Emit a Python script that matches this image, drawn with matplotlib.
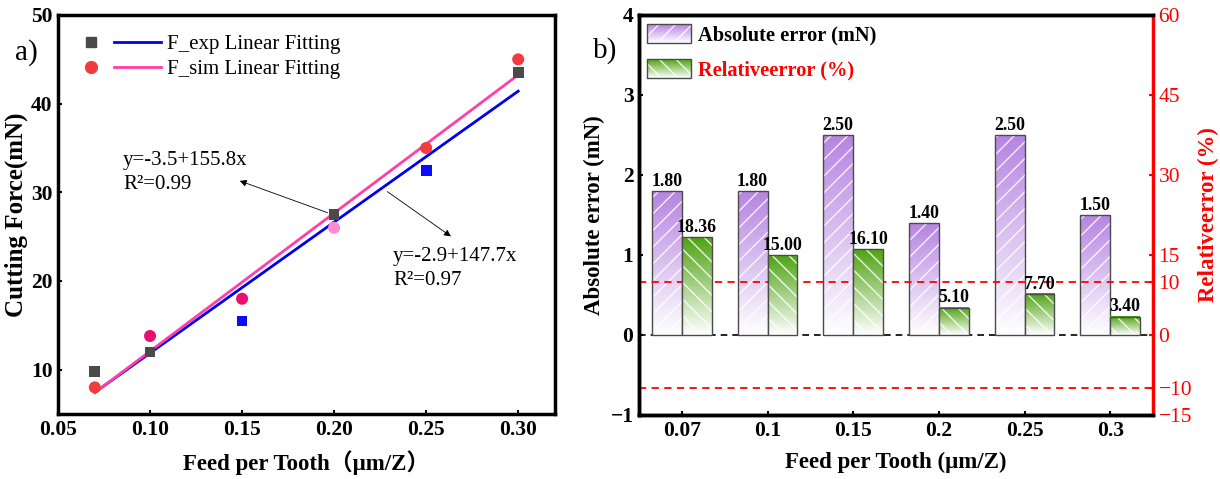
import numpy as np
import matplotlib
matplotlib.use("Agg")
import matplotlib.pyplot as plt
from matplotlib.colors import LinearSegmentedColormap, Normalize
from matplotlib.legend_handler import HandlerBase, HandlerTuple
from matplotlib.image import BboxImage
from matplotlib.transforms import Bbox, TransformedBbox
from matplotlib.patches import Rectangle
from matplotlib.lines import Line2D

SERIF = ["Liberation Serif", "Noto Sans CJK SC", "DejaVu Serif"]
plt.rcParams["font.family"] = SERIF
plt.rcParams["axes.unicode_minus"] = True

# ---- panel a) data ----
feed = [0.07, 0.10, 0.15, 0.20, 0.25, 0.30]
f_exp = [9.8, 12.0, 15.5, 27.5, 32.5, 43.5]
f_sim = [8.0, 13.8, 18.0, 26.0, 35.0, 45.0]
exp_colors = ["#4a4a4a", "#4a4a4a", "#0a0aff", "#4a4a4a", "#0a0aff", "#4a4a4a"]
sim_colors = ["#f03c3c", "#e8106e", "#e8106e", "#ff8ccc", "#f03c3c", "#f03c3c"]
# fitted lines as printed on the chart: y = a + b x
fit_exp = (-2.9, 147.7)
fit_sim = (-3.5, 155.8)

# ---- panel b) data ----
feed_labels = ["0.07", "0.1", "0.15", "0.2", "0.25", "0.3"]
abs_err = [1.80, 1.80, 2.50, 1.40, 2.50, 1.50]
rel_err = [18.36, 15.00, 16.10, 5.10, 7.70, 3.40]

purple = "#b684e2"
green = "#4fa312"
cmap_p = LinearSegmentedColormap.from_list("p", ["#ffffff", purple])
cmap_g = LinearSegmentedColormap.from_list("g", ["#ffffff", green])


class GradientHandler(HandlerBase):
    def __init__(self, cmap, hatch):
        super().__init__()
        self.cmap = cmap
        self.hatch = hatch

    def create_artists(self, legend, orig_handle, xdescent, ydescent,
                       width, height, fontsize, trans):
        bb = TransformedBbox(Bbox.from_bounds(-xdescent, -ydescent, width, height), trans)
        img = BboxImage(bb, cmap=self.cmap, norm=Normalize(0, 1), interpolation="bilinear")
        img.set_data(np.linspace(1, 0, 64).reshape(-1, 1))
        hat = Rectangle((-xdescent, -ydescent), width, height, facecolor="none",
                        edgecolor=(1, 1, 1, 0.85), lw=0, hatch=self.hatch, transform=trans)
        edge = Rectangle((-xdescent, -ydescent), width, height, facecolor="none",
                         edgecolor="#4a4a4a", lw=1.0, transform=trans)
        return [img, hat, edge]


def gradient_bars(ax, xs, heights, width, cmap, hatch):
    grad = np.linspace(0, 1, 128).reshape(-1, 1)
    for x, h in zip(xs, heights):
        ax.imshow(grad, extent=[x - width / 2, x + width / 2, 0, h], cmap=cmap,
                  norm=Normalize(0, 1), aspect="auto", origin="lower",
                  interpolation="bilinear", zorder=2)
    ax.bar(xs, heights, width, facecolor="none", edgecolor=(1, 1, 1, 0.85),
           linewidth=0, hatch=hatch, zorder=3)
    return ax.bar(xs, heights, width, facecolor="none", edgecolor="#4a4a4a",
                  linewidth=1.0, zorder=4)


fig = plt.figure(figsize=(12.2, 4.79), dpi=100)

# ================= panel a =================
ax = fig.add_axes([58 / 1220, 65 / 479, 497 / 1220, 399 / 479])
xl = np.array([feed[0], feed[-1]])
ln_exp, = ax.plot(xl, fit_exp[0] + fit_exp[1] * xl, color="#0000ee", lw=2.0, zorder=2)
ln_sim, = ax.plot(xl, fit_sim[0] + fit_sim[1] * xl, color="#ff3fa8", lw=2.0, zorder=2)
ax.scatter(feed, f_exp, marker="s", s=60, c=exp_colors, zorder=3, linewidths=0)
ax.scatter(feed, f_sim, marker="o", s=75, c=sim_colors, zorder=3, linewidths=0)

ax.set_xlim(0.05, 0.32)
ax.set_ylim(5, 50)
ax.set_xticks([0.05, 0.10, 0.15, 0.20, 0.25, 0.30])
ax.set_xticklabels(["0.05", "0.10", "0.15", "0.20", "0.25", "0.30"])
ax.set_yticks([10, 20, 30, 40, 50])
ax.tick_params(direction="in", length=3, width=1.5, labelsize=15.5, pad=4)
for lab in ax.get_xticklabels() + ax.get_yticklabels():
    lab.set_fontweight("bold")
for sp in ax.spines.values():
    sp.set_linewidth(2.5)
ax.set_xlabel("Feed per Tooth（μm/Z）", fontsize=16.5, fontweight="bold", labelpad=8)
ax.set_ylabel("Cutting Force(mN)", fontsize=18, fontweight="bold", labelpad=2)

m_exp = Line2D([], [], marker="s", ls="none", color="#4a4a4a", markersize=7.5)
m_sim = Line2D([], [], marker="o", ls="none", color="#f03c3c", markersize=8.5)
ax.legend([(m_exp, ln_exp), (m_sim, ln_sim)],
          ["F_exp Linear Fitting", "F_sim Linear Fitting"],
          handler_map={tuple: HandlerTuple(ndivide=None, pad=0.0)},
          loc="upper left", bbox_to_anchor=(0.019, 0.951), frameon=False,
          borderaxespad=0, borderpad=0,
          fontsize=15, handlelength=4.5, handletextpad=0.3, labelspacing=0.25)

ax.annotate("", xy=(0.1473, 31.4), xytext=(0.1978, 27.6),
            arrowprops=dict(arrowstyle="-|>", color="black", lw=0.6, mutation_scale=10))
ax.annotate("", xy=(0.2647, 24.85), xytext=(0.2277, 30.26),
            arrowprops=dict(arrowstyle="-|>", color="black", lw=0.6, mutation_scale=10))
ax.text(0.0853, 32.24, f"y={fit_sim[0]}+{fit_sim[1]}x\nR²=0.99", fontsize=15,
        va="center", linespacing=1.35)
ax.text(0.232, 21.41, f"y={fit_exp[0]}+{fit_exp[1]}x\nR²=0.97", fontsize=15,
        va="center", linespacing=1.35)
fig.text(26 / 1220, 1 - 53 / 479, "a)", fontsize=21, ha="center", va="center")

# ================= panel b =================
bx = fig.add_axes([639 / 1220, 64 / 479, 514 / 1220, 400 / 479])
bx2 = bx.twinx()
pos = np.arange(len(feed_labels))
w = 0.35

c_abs = gradient_bars(bx, pos - w / 2, abs_err, w, cmap_p, "//")
c_rel = gradient_bars(bx2, pos + w / 2, rel_err, w, cmap_g, "\\\\")
bx.bar_label(c_abs, labels=[f"{v:.2f}" for v in abs_err], padding=1,
             fontsize=12.8, fontweight="bold")
bx2.bar_label(c_rel, labels=[f"{v:.2f}" for v in rel_err], padding=1,
              fontsize=12.8, fontweight="bold")

bx.axhline(0, color="black", ls=(0, (4, 3)), lw=1.2, zorder=1)
for lv in (10, -10):
    bx2.axhline(lv, color="#ff0000", ls=(0, (4, 3)), lw=1.3, zorder=1)

bx.set_xlim(-0.5, 5.5)
bx.set_ylim(-1, 4)
bx2.set_ylim(-15, 60)
bx.set_xticks(pos)
bx.set_xticklabels(feed_labels)
bx.set_yticks([-1, 0, 1, 2, 3, 4])
bx2.set_yticks([-15, -10, 0, 10, 15, 30, 45, 60])
bx.tick_params(direction="in", length=3, width=1.5, labelsize=15.5, pad=4)
bx2.tick_params(direction="in", length=3, width=1.5, labelsize=15.5, pad=4,
                colors="#ff0000")
for lab in bx.get_xticklabels() + bx.get_yticklabels():
    lab.set_fontweight("bold")
for sp in list(bx.spines.values()) + list(bx2.spines.values()):
    sp.set_linewidth(2.5)
bx.spines["right"].set_visible(False)
bx2.spines["right"].set_color("#ff0000")
bx.set_xlabel("Feed per Tooth (μm/Z)", fontsize=16.5, fontweight="bold", labelpad=8)
bx.set_ylabel("Absolute error (mN)", fontsize=16.5, fontweight="bold", labelpad=4)
bx2.set_ylabel("Relativeerror (%)", fontsize=16.5, fontweight="bold", color="#ff0000",
               labelpad=4)

h1 = Rectangle((0, 0), 1, 1)
h2 = Rectangle((0, 0), 1, 1)
leg = bx2.legend([h1, h2], ["Absolute error (mN)", "Relativeerror (%)"],
                 handler_map={h1: GradientHandler(cmap_p, "//"),
                              h2: GradientHandler(cmap_g, "\\\\")},
                 loc="upper left", bbox_to_anchor=(0.0156, 0.9775), frameon=False,
                 borderaxespad=0, borderpad=0,
                 prop={"size": 14.7, "weight": "bold"}, handlelength=2.15,
                 handleheight=1.03, handletextpad=0.35, labelspacing=0.69)
leg.get_texts()[1].set_color("#ff0000")
fig.text(605 / 1220, 1 - 51 / 479, "b)", fontsize=21, ha="center", va="center")

fig.savefig("out.png", dpi=100)
